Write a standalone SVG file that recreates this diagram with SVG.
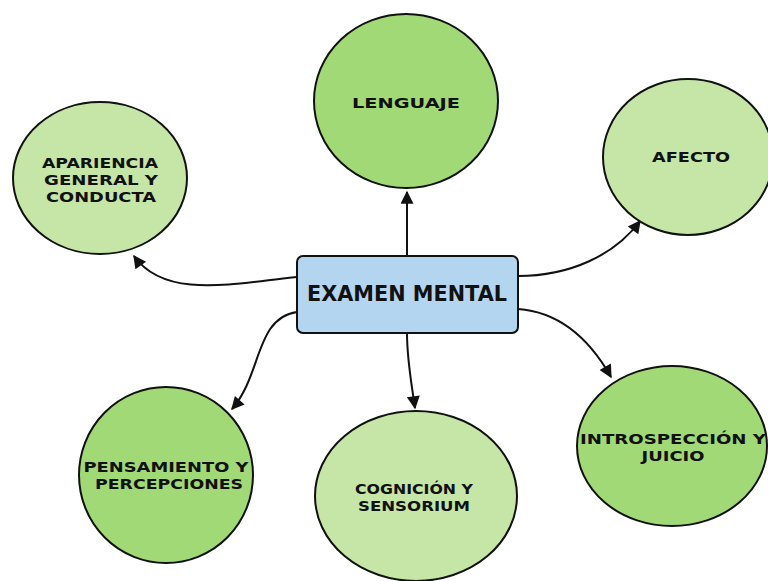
<svg xmlns="http://www.w3.org/2000/svg" width="768" height="581" viewBox="0 0 768 581">
  <style>
    .node { stroke: #111; stroke-width: 2; }
    .light { fill: #c5e6a6; }
    .dark { fill: #a2d977; }
    .center { fill: #b4d5f0; }
    .label { font-family: "DejaVu Sans", "Liberation Sans", sans-serif; font-weight: bold; fill: #111; text-anchor: middle; }
    .small { font-size: 14.5px; }
    .big { font-size: 21px; }
    .edge { fill: none; stroke: #111; stroke-width: 2; marker-end: url(#arrow); }
  </style>
  <defs>
    <marker id="arrow" viewBox="0 0 10 10" refX="9" refY="5" markerWidth="7.5" markerHeight="6.5" orient="auto" markerUnits="strokeWidth">
      <path d="M0,0 L10,5 L0,10 z" fill="#111"/>
    </marker>
  </defs>
  <rect width="768" height="581" fill="#fff"/>

  <g id="connectors">
    <path class="edge" d="M407,256 L407,192"/>
    <path class="edge" d="M297,277 C235,283 165,300 134,256"/>
    <path class="edge" d="M518,276 C570,276 615,255 640,221"/>
    <path class="edge" d="M518,309 C560,312 590,340 611,377"/>
    <path class="edge" d="M297,312 C255,318 262,375 232,409"/>
    <path class="edge" d="M407,333 C407,360 411,380 415,408"/>
  </g>

  <g id="node-lenguaje">
    <ellipse class="node dark" cx="406" cy="101" rx="92" ry="87"/>
    <text class="label small" x="406" y="108" textLength="108" lengthAdjust="spacingAndGlyphs">LENGUAJE</text>
  </g>

  <g id="node-apariencia">
    <ellipse class="node light" cx="100" cy="178" rx="87" ry="76"/>
    <text class="label small" x="100" y="168" textLength="116" lengthAdjust="spacingAndGlyphs">APARIENCIA</text>
    <text class="label small" x="101" y="185" textLength="114" lengthAdjust="spacingAndGlyphs">GENERAL Y</text>
    <text class="label small" x="101" y="202" textLength="110" lengthAdjust="spacingAndGlyphs">CONDUCTA</text>
  </g>

  <g id="node-afecto">
    <ellipse class="node light" cx="688" cy="157" rx="85" ry="78"/>
    <text class="label small" x="691" y="162" textLength="78" lengthAdjust="spacingAndGlyphs">AFECTO</text>
  </g>

  <g id="node-examen">
    <rect class="node center" x="297" y="256" width="221" height="77" rx="6"/>
    <text class="label big" x="407" y="301" textLength="200" lengthAdjust="spacingAndGlyphs">EXAMEN MENTAL</text>
  </g>

  <g id="node-introspeccion">
    <ellipse class="node dark" cx="672" cy="446" rx="95" ry="80"/>
    <text class="label small" x="673" y="444" textLength="186" lengthAdjust="spacingAndGlyphs">INTROSPECCIÓN Y</text>
    <text class="label small" x="673" y="461" textLength="63" lengthAdjust="spacingAndGlyphs">JUICIO</text>
  </g>

  <g id="node-pensamiento">
    <ellipse class="node dark" cx="166" cy="475" rx="87" ry="88"/>
    <text class="label small" x="166" y="472" textLength="165" lengthAdjust="spacingAndGlyphs">PENSAMIENTO  Y</text>
    <text class="label small" x="169" y="489" textLength="148" lengthAdjust="spacingAndGlyphs">PERCEPCIONES</text>
  </g>

  <g id="node-cognicion">
    <ellipse class="node light" cx="416" cy="496" rx="101" ry="85"/>
    <text class="label small" x="414" y="494" textLength="118" lengthAdjust="spacingAndGlyphs">COGNICIÓN Y</text>
    <text class="label small" x="414" y="511" textLength="112" lengthAdjust="spacingAndGlyphs">SENSORIUM</text>
  </g>
</svg>
